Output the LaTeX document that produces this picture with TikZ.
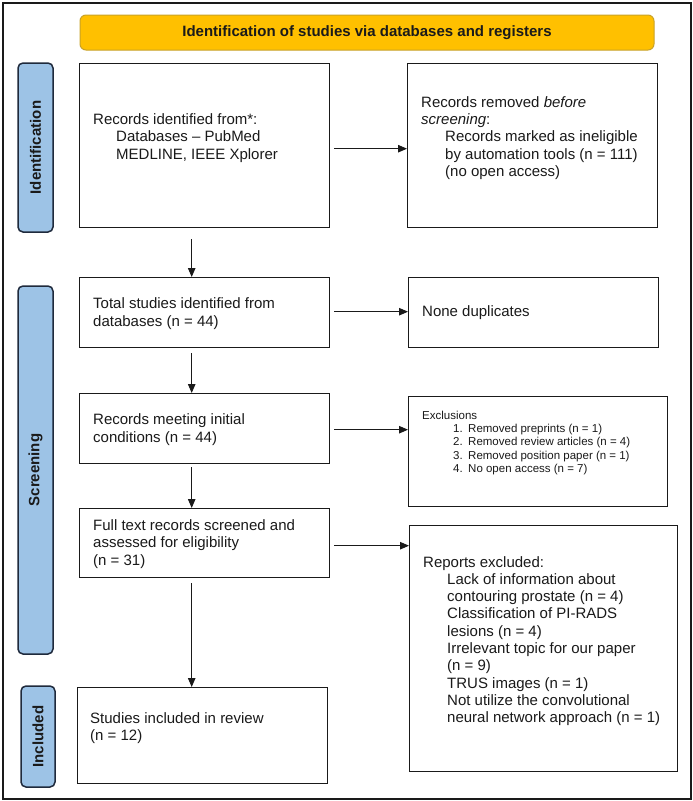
\documentclass[tikz,border=0pt]{standalone}
\usepackage{fontspec}
\setmainfont{Liberation Sans}
\usetikzlibrary{arrows.meta,calc}
\definecolor{hdr}{HTML}{FFC000}
\definecolor{hdrline}{HTML}{C9A227}
\definecolor{side}{HTML}{9DC3E6}
\definecolor{sideline}{HTML}{1F2A3C}
\definecolor{ink}{HTML}{1A1A1A}
\begin{document}
\begin{tikzpicture}[x=1pt,y=-1pt,
  box/.style={draw=ink,line width=1.4pt,inner sep=0pt,anchor=north west},
  txt/.style={anchor=west,align=left,inner sep=0pt,text=ink,font=\fontsize{15}{17.3}\selectfont},
  smalltxt/.style={anchor=west,align=left,inner sep=0pt,text=ink,font=\fontsize{11.5}{13.4}\selectfont},
  sidelabel/.style={draw=sideline,fill=side,line width=1.5pt,rounded corners=5pt,rotate=90,inner sep=0pt,text=ink,font=\bfseries\fontsize{15}{17}\selectfont},
  arr/.style={draw=ink,line width=1pt,-{Triangle[length=9pt,width=7.5pt]}}]
\useasboundingbox (0,0) rectangle (693,801);
\fill[white] (0,0) rectangle (693,801);
\draw[ink,line width=1.5pt] (3,3) rectangle (691,799);
% header
\node[draw=hdrline,fill=hdr,line width=1pt,rounded corners=6pt,minimum width=574pt,minimum height=35pt,inner sep=0pt,text=ink,font=\bfseries\fontsize{15}{17}\selectfont] (hdr) at (367,32.5) {Identification of studies via databases and registers};
% side labels
\node[sidelabel,minimum width=169pt,minimum height=35pt] (lid) at (35.5,147.5) {Identification};
\node[sidelabel,minimum width=368pt,minimum height=35pt] (lsc) at (35.5,470) {Screening};
\node[sidelabel,minimum width=101pt,minimum height=34pt] (lin) at (38,736.5) {Included};
% boxes
\node[box,minimum width=250pt,minimum height=164pt] (b1) at (79,63) {};
\node[box,minimum width=250pt,minimum height=164pt] (b2) at (407,63) {};
\node[box,minimum width=250pt,minimum height=70pt] (b3) at (79,277) {};
\node[box,minimum width=250pt,minimum height=70pt] (dup) at (408,277) {};
\node[box,minimum width=250pt,minimum height=70pt] (b4) at (79,393) {};
\node[box,minimum width=259pt,minimum height=110pt] (excl) at (408,396) {};
\node[box,minimum width=250pt,minimum height=69pt] (b5) at (79,508) {};
\node[box,minimum width=268pt,minimum height=246pt] (rep) at (409,525) {};
\node[box,minimum width=250pt,minimum height=96pt] (b6) at (77,687) {};
% texts
\node[txt] (t1) at (93,138) {Records identified from*:\\\hspace*{23pt}Databases -- PubMed\\\hspace*{23pt}MEDLINE, IEEE Xplorer};
\node[txt] (t2) at (421,138) {Records removed \textit{before}\\\textit{screening}:\\\hspace*{24pt}Records marked as ineligible\\\hspace*{24pt}by automation tools (n = 111)\\\hspace*{24pt}(no open access)};
\node[txt] (t3) at (93,313.5) {Total studies identified from\\databases (n = 44)};
\node[txt] (tdup) at (422,313) {None duplicates};
\node[txt] (t4) at (93,429.5) {Records meeting initial\\conditions (n = 44)};
\node[smalltxt] (texcl) at (422,443) {Exclusions\\\hspace*{31pt}\makebox[15pt][l]{1.}Removed preprints (n = 1)\\\hspace*{31pt}\makebox[15pt][l]{2.}Removed review articles (n = 4)\\\hspace*{31pt}\makebox[15pt][l]{3.}Removed position paper (n = 1)\\\hspace*{31pt}\makebox[15pt][l]{4.}No open access (n = 7)};
\node[txt] (t5) at (93,544) {Full text records screened and\\assessed for eligibility\\(n = 31)};
\node[txt] (trep) at (423,641) {Reports excluded:\\\hspace*{24pt}Lack of information about\\\hspace*{24pt}contouring prostate (n = 4)\\\hspace*{24pt}Classification of PI-RADS\\\hspace*{24pt}lesions (n = 4)\\\hspace*{24pt}Irrelevant topic for our paper\\\hspace*{24pt}(n = 9)\\\hspace*{24pt}TRUS images (n = 1)\\\hspace*{24pt}Not utilize the convolutional\\\hspace*{24pt}neural network approach (n = 1)};
\node[txt] (t6) at (90,728) {Studies included in review\\(n = 12)};
% vertical arrows
\coordinate (a1) at ([xshift=-13pt,yshift=-11pt]b1.south);
\draw[arr] (a1) -- (a1 |- b3.north);
\coordinate (a3) at ([xshift=-13pt,yshift=-5pt]b3.south);
\draw[arr] (a3) -- (a3 |- b4.north);
\coordinate (a4) at ([xshift=-13pt,yshift=-3pt]b4.south);
\draw[arr] (a4) -- (a4 |- b5.north);
\coordinate (a5) at ([xshift=-13pt,yshift=-5pt]b5.south);
\draw[arr] (a5) -- (a5 |- b6.north);
% horizontal arrows
\coordinate (h1) at ([xshift=4pt,yshift=-3pt]b1.east);
\draw[arr] (h1) -- (h1 -| b2.west);
\coordinate (h3) at ([xshift=4pt,yshift=1pt]b3.east);
\draw[arr] (h3) -- (h3 -| dup.west);
\coordinate (h4) at ([xshift=4pt,yshift=-1pt]b4.east);
\draw[arr] (h4) -- (h4 -| excl.west);
\coordinate (h5) at ([xshift=4pt,yshift=-2.5pt]b5.east);
\draw[arr] (h5) -- (h5 -| rep.west);
\end{tikzpicture}
\end{document}
